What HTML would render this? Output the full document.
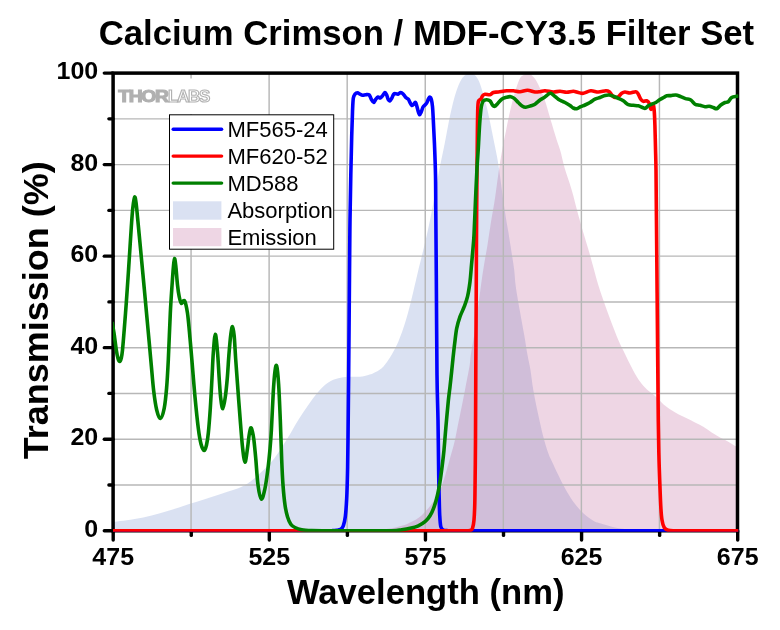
<!DOCTYPE html>
<html lang="en"><head><meta charset="utf-8"><title>Calcium Crimson / MDF-CY3.5 Filter Set</title>
<style>html,body{margin:0;padding:0;background:#fff;}body{width:780px;height:630px;overflow:hidden;}svg{display:block;will-change:transform;}</style>
</head><body>
<svg width="780" height="630" viewBox="0 0 780 630">
<rect width="780" height="630" fill="#fff"/>
<clipPath id="pc"><rect x="113.00" y="72.10" width="625.30" height="459.60"/></clipPath>
<clipPath id="fc"><rect x="113.00" y="73.10" width="624.50" height="457.60"/></clipPath>
<g clip-path="url(#fc)">
<path d="M112.00 521.90 C112.50 521.87 112.55 521.97 115.00 521.70 C117.45 521.43 121.98 521.00 126.70 520.30 C131.42 519.60 137.75 518.67 143.30 517.50 C148.85 516.33 154.43 514.83 160.00 513.30 C165.57 511.77 171.42 509.97 176.70 508.30 C181.98 506.63 186.15 505.10 191.70 503.30 C197.25 501.50 204.17 499.38 210.00 497.50 C215.83 495.62 221.42 493.80 226.70 492.00 C231.98 490.20 237.53 488.62 241.70 486.70 C245.87 484.78 247.53 483.78 251.70 480.50 C255.87 477.22 262.53 471.25 266.70 467.00 C270.87 462.75 273.10 460.00 276.70 455.00 C280.30 450.00 284.70 442.83 288.30 437.00 C291.90 431.17 294.97 425.33 298.30 420.00 C301.63 414.67 304.97 409.72 308.30 405.00 C311.63 400.28 314.97 395.45 318.30 391.70 C321.63 387.95 324.97 384.73 328.30 382.50 C331.63 380.27 334.97 379.25 338.30 378.30 C341.63 377.35 344.68 377.07 348.30 376.80 C351.92 376.53 356.67 377.00 360.00 376.70 C363.33 376.40 366.08 375.57 368.30 375.00 C370.52 374.43 371.07 374.42 373.30 373.30 C375.53 372.18 379.20 370.52 381.70 368.30 C384.20 366.08 386.37 362.77 388.30 360.00 C390.23 357.23 391.63 354.75 393.30 351.70 C394.97 348.65 396.63 345.60 398.30 341.70 C399.97 337.80 401.63 333.30 403.30 328.30 C404.97 323.30 406.63 317.80 408.30 311.70 C409.97 305.60 411.68 298.40 413.30 291.70 C414.92 285.00 416.47 277.90 418.00 271.50 C419.53 265.10 420.78 260.50 422.50 253.30 C424.22 246.10 426.50 236.63 428.30 228.30 C430.10 219.97 431.57 212.52 433.30 203.30 C435.03 194.08 436.75 183.22 438.70 173.00 C440.65 162.78 443.12 151.50 445.00 142.00 C446.88 132.50 448.33 123.75 450.00 116.00 C451.67 108.25 453.33 101.17 455.00 95.50 C456.67 89.83 458.33 85.37 460.00 82.00 C461.67 78.63 463.33 76.72 465.00 75.30 C466.67 73.88 468.33 73.50 470.00 73.50 C471.67 73.50 473.47 73.93 475.00 75.30 C476.53 76.67 477.95 78.97 479.20 81.70 C480.45 84.43 481.25 87.53 482.50 91.70 C483.75 95.87 485.45 101.70 486.70 106.70 C487.95 111.70 488.90 116.43 490.00 121.70 C491.10 126.97 492.18 132.75 493.30 138.30 C494.42 143.85 495.72 149.72 496.70 155.00 C497.68 160.28 497.95 161.38 499.20 170.00 C500.45 178.62 502.68 196.42 504.20 206.70 C505.72 216.98 507.05 223.93 508.30 231.70 C509.55 239.47 510.72 246.92 511.70 253.30 C512.68 259.68 513.52 264.43 514.20 270.00 C514.88 275.57 514.83 279.75 515.80 286.70 C516.77 293.65 518.60 303.65 520.00 311.70 C521.40 319.75 522.95 327.78 524.20 335.00 C525.45 342.22 526.48 349.33 527.50 355.00 C528.52 360.67 529.33 363.17 530.30 369.00 C531.27 374.83 531.97 382.33 533.30 390.00 C534.63 397.67 536.63 407.22 538.30 415.00 C539.97 422.78 541.63 430.32 543.30 436.70 C544.97 443.08 546.90 449.25 548.30 453.30 C549.70 457.35 550.03 457.38 551.70 461.00 C553.37 464.62 556.08 470.45 558.30 475.00 C560.52 479.55 562.50 483.85 565.00 488.30 C567.50 492.75 570.25 497.53 573.30 501.70 C576.35 505.87 579.97 510.12 583.30 513.30 C586.63 516.48 590.52 519.13 593.30 520.80 C596.08 522.47 596.38 522.18 600.00 523.30 C603.62 524.42 609.72 526.43 615.00 527.50 C620.28 528.57 624.75 529.22 631.70 529.70 C638.65 530.18 645.32 530.23 656.70 530.40 C668.08 530.57 692.78 530.65 700.00 530.70 L700.00 530.70 L112.00 530.70 Z" fill="rgba(68,104,190,0.20)"/>
<path d="M330.00 530.70 C335.00 530.65 350.83 530.65 360.00 530.40 C369.17 530.15 378.05 529.97 385.00 529.20 C391.95 528.43 397.25 527.05 401.70 525.80 C406.15 524.55 408.65 523.22 411.70 521.70 C414.75 520.18 417.50 518.65 420.00 516.70 C422.50 514.75 424.48 512.50 426.70 510.00 C428.92 507.50 431.08 505.03 433.30 501.70 C435.52 498.37 438.05 494.28 440.00 490.00 C441.95 485.72 443.33 481.28 445.00 476.00 C446.67 470.72 448.42 463.97 450.00 458.30 C451.58 452.63 453.12 447.83 454.50 442.00 C455.88 436.17 457.10 429.18 458.30 423.30 C459.50 417.42 460.58 412.25 461.70 406.70 C462.82 401.15 463.67 396.95 465.00 390.00 C466.33 383.05 468.73 370.83 469.70 365.00 C470.67 359.17 470.05 360.00 470.80 355.00 C471.55 350.00 473.08 342.22 474.20 335.00 C475.32 327.78 476.40 319.75 477.50 311.70 C478.60 303.65 479.77 294.15 480.80 286.70 C481.83 279.25 482.58 273.95 483.70 267.00 C484.82 260.05 486.32 252.28 487.50 245.00 C488.68 237.72 489.55 231.08 490.80 223.30 C492.05 215.52 493.60 207.52 495.00 198.30 C496.40 189.08 497.95 176.33 499.20 168.00 C500.45 159.67 501.40 154.35 502.50 148.30 C503.60 142.25 504.68 137.25 505.80 131.70 C506.92 126.15 507.95 120.57 509.20 115.00 C510.45 109.43 512.05 103.02 513.30 98.30 C514.55 93.58 515.58 90.03 516.70 86.70 C517.82 83.37 518.90 80.20 520.00 78.30 C521.10 76.40 522.05 76.08 523.30 75.30 C524.55 74.52 526.10 73.60 527.50 73.60 C528.90 73.60 530.32 74.23 531.70 75.30 C533.08 76.37 534.42 77.83 535.80 80.00 C537.18 82.17 538.60 85.25 540.00 88.30 C541.40 91.35 542.82 94.40 544.20 98.30 C545.58 102.20 547.05 107.53 548.30 111.70 C549.55 115.87 550.30 118.58 551.70 123.30 C553.10 128.02 555.25 135.38 556.70 140.00 C558.15 144.62 559.10 146.42 560.40 151.00 C561.70 155.58 562.62 161.00 564.50 167.50 C566.38 174.00 569.40 182.08 571.70 190.00 C574.00 197.92 576.08 206.95 578.30 215.00 C580.52 223.05 583.05 231.63 585.00 238.30 C586.95 244.97 588.62 250.22 590.00 255.00 C591.38 259.78 591.92 262.00 593.30 267.00 C594.68 272.00 596.35 278.67 598.30 285.00 C600.25 291.33 602.77 298.62 605.00 305.00 C607.23 311.38 609.48 317.47 611.70 323.30 C613.92 329.13 616.08 334.88 618.30 340.00 C620.52 345.12 622.77 349.42 625.00 354.00 C627.23 358.58 629.48 363.30 631.70 367.50 C633.92 371.70 636.08 375.87 638.30 379.20 C640.52 382.53 642.77 385.15 645.00 387.50 C647.23 389.85 649.75 391.63 651.70 393.30 C653.65 394.97 654.77 395.68 656.70 397.50 C658.63 399.32 661.08 402.25 663.30 404.20 C665.52 406.15 667.50 407.53 670.00 409.20 C672.50 410.87 675.52 412.68 678.30 414.20 C681.08 415.72 683.92 416.92 686.70 418.30 C689.48 419.68 692.23 421.10 695.00 422.50 C697.77 423.90 700.52 425.03 703.30 426.70 C706.08 428.37 708.92 430.70 711.70 432.50 C714.48 434.30 717.23 435.97 720.00 437.50 C722.77 439.03 725.67 440.23 728.30 441.70 C730.93 443.17 734.02 445.25 735.80 446.30 C737.58 447.35 738.47 447.72 739.00 448.00 L739.00 530.70 L330.00 530.70 Z" fill="rgba(170,50,120,0.20)"/>
</g>
<g stroke="#b7b7b7" stroke-width="1.45" fill="none"><line x1="191.06" y1="73.10" x2="191.06" y2="530.70"/><line x1="269.12" y1="73.10" x2="269.12" y2="530.70"/><line x1="347.19" y1="73.10" x2="347.19" y2="530.70"/><line x1="425.25" y1="73.10" x2="425.25" y2="530.70"/><line x1="503.31" y1="73.10" x2="503.31" y2="530.70"/><line x1="581.38" y1="73.10" x2="581.38" y2="530.70"/><line x1="659.44" y1="73.10" x2="659.44" y2="530.70"/><line x1="113.00" y1="484.94" x2="737.50" y2="484.94"/><line x1="113.00" y1="439.18" x2="737.50" y2="439.18"/><line x1="113.00" y1="393.42" x2="737.50" y2="393.42"/><line x1="113.00" y1="347.66" x2="737.50" y2="347.66"/><line x1="113.00" y1="301.90" x2="737.50" y2="301.90"/><line x1="113.00" y1="256.14" x2="737.50" y2="256.14"/><line x1="113.00" y1="210.38" x2="737.50" y2="210.38"/><line x1="113.00" y1="164.62" x2="737.50" y2="164.62"/><line x1="113.00" y1="118.86" x2="737.50" y2="118.86"/></g>
<rect x="113.10" y="73.10" width="624.40" height="457.65" fill="none" stroke="#000" stroke-width="3.5"/>
<g stroke="#000" stroke-width="3.4" stroke-linecap="round"><line x1="113.20" y1="530.70" x2="113.20" y2="540.00"/><line x1="191.26" y1="530.70" x2="191.26" y2="535.40"/><line x1="269.32" y1="530.70" x2="269.32" y2="540.00"/><line x1="347.39" y1="530.70" x2="347.39" y2="535.40"/><line x1="425.45" y1="530.70" x2="425.45" y2="540.00"/><line x1="503.51" y1="530.70" x2="503.51" y2="535.40"/><line x1="581.58" y1="530.70" x2="581.58" y2="540.00"/><line x1="659.64" y1="530.70" x2="659.64" y2="535.40"/><line x1="737.70" y1="530.70" x2="737.70" y2="540.00"/><line x1="104.30" y1="530.70" x2="113.00" y2="530.70"/><line x1="108.90" y1="484.94" x2="113.00" y2="484.94"/><line x1="104.30" y1="439.18" x2="113.00" y2="439.18"/><line x1="108.90" y1="393.42" x2="113.00" y2="393.42"/><line x1="104.30" y1="347.66" x2="113.00" y2="347.66"/><line x1="108.90" y1="301.90" x2="113.00" y2="301.90"/><line x1="104.30" y1="256.14" x2="113.00" y2="256.14"/><line x1="108.90" y1="210.38" x2="113.00" y2="210.38"/><line x1="104.30" y1="164.62" x2="113.00" y2="164.62"/><line x1="108.90" y1="118.86" x2="113.00" y2="118.86"/><line x1="104.30" y1="73.10" x2="113.00" y2="73.10"/></g>
<g clip-path="url(#pc)" fill="none" stroke-width="3.6" stroke-linejoin="round" stroke-linecap="butt">
<path d="M112.00 530.70 C135.00 530.70 214.50 530.70 250.00 530.70 C285.50 530.70 311.17 530.73 325.00 530.70 C338.83 530.67 331.05 530.57 333.00 530.50 C334.95 530.43 335.40 530.52 336.70 530.30 C338.00 530.08 339.70 529.95 340.80 529.20 C341.90 528.45 342.55 527.88 343.30 525.80 C344.05 523.72 344.73 521.28 345.30 516.70 C345.87 512.12 346.33 505.53 346.70 498.30 C347.07 491.07 347.28 483.02 347.50 473.30 C347.72 463.58 347.80 457.22 348.00 440.00 C348.20 422.78 348.45 397.50 348.70 370.00 C348.95 342.50 349.28 300.00 349.50 275.00 C349.72 250.00 349.78 236.67 350.00 220.00 C350.22 203.33 350.52 188.88 350.80 175.00 C351.08 161.12 351.42 147.25 351.70 136.70 C351.98 126.15 352.23 118.10 352.50 111.70 C352.77 105.30 352.88 101.22 353.30 98.30 C353.72 95.38 354.30 95.12 355.00 94.20 C355.70 93.28 356.67 92.80 357.50 92.80 C358.33 92.80 359.17 93.78 360.00 94.20 C360.83 94.62 361.53 95.22 362.50 95.30 C363.47 95.38 364.68 94.75 365.80 94.70 C366.92 94.65 368.28 94.25 369.20 95.00 C370.12 95.75 370.55 97.95 371.30 99.20 C372.05 100.45 372.95 102.50 373.70 102.50 C374.45 102.50 375.08 100.12 375.80 99.20 C376.52 98.28 377.25 97.20 378.00 97.00 C378.75 96.80 379.55 98.20 380.30 98.00 C381.05 97.80 381.72 96.72 382.50 95.80 C383.28 94.88 384.30 92.63 385.00 92.50 C385.70 92.37 386.15 93.80 386.70 95.00 C387.25 96.20 387.75 98.73 388.30 99.70 C388.85 100.67 389.43 101.03 390.00 100.80 C390.57 100.57 391.08 99.40 391.70 98.30 C392.32 97.20 393.02 94.97 393.70 94.20 C394.38 93.43 395.08 93.70 395.80 93.70 C396.52 93.70 397.17 94.40 398.00 94.20 C398.83 94.00 399.92 92.50 400.80 92.50 C401.68 92.50 402.47 93.37 403.30 94.20 C404.13 95.03 404.97 96.67 405.80 97.50 C406.63 98.33 407.60 98.37 408.30 99.20 C409.00 100.03 409.43 101.48 410.00 102.50 C410.57 103.52 411.08 105.02 411.70 105.30 C412.32 105.58 413.07 104.67 413.70 104.20 C414.33 103.73 414.95 102.08 415.50 102.50 C416.05 102.92 416.53 105.17 417.00 106.70 C417.47 108.23 417.85 110.37 418.30 111.70 C418.75 113.03 419.20 114.70 419.70 114.70 C420.20 114.70 420.75 112.98 421.30 111.70 C421.85 110.42 422.38 108.12 423.00 107.00 C423.62 105.88 424.33 105.75 425.00 105.00 C425.67 104.25 426.38 103.62 427.00 102.50 C427.62 101.38 428.20 99.18 428.70 98.30 C429.20 97.42 429.57 97.05 430.00 97.20 C430.43 97.35 430.88 97.62 431.30 99.20 C431.72 100.78 432.17 103.23 432.50 106.70 C432.83 110.17 432.97 113.62 433.30 120.00 C433.63 126.38 434.13 135.83 434.50 145.00 C434.87 154.17 435.28 163.88 435.50 175.00 C435.72 186.12 435.67 195.03 435.80 211.70 C435.93 228.37 436.10 247.78 436.30 275.00 C436.50 302.22 436.72 350.83 437.00 375.00 C437.28 399.17 437.72 403.33 438.00 420.00 C438.28 436.67 438.50 461.95 438.70 475.00 C438.90 488.05 439.03 491.63 439.20 498.30 C439.37 504.97 439.43 510.27 439.70 515.00 C439.97 519.73 440.20 524.20 440.80 526.70 C441.40 529.20 442.27 529.35 443.30 530.00 C444.33 530.65 445.05 530.48 447.00 530.60 C448.95 530.72 429.50 530.68 455.00 530.70 C480.50 530.72 552.67 530.70 600.00 530.70 C647.33 530.70 715.83 530.70 739.00 530.70" stroke="#0000ff"/>
<path d="M112.00 530.70 C143.33 530.70 242.83 530.70 300.00 530.70 C357.17 530.70 427.33 530.70 455.00 530.70 C482.67 530.70 463.50 530.73 466.00 530.70 C468.50 530.67 468.92 530.90 470.00 530.50 C471.08 530.10 471.83 530.05 472.50 528.30 C473.17 526.55 473.62 524.22 474.00 520.00 C474.38 515.78 474.60 510.83 474.80 503.00 C475.00 495.17 475.08 483.50 475.20 473.00 C475.32 462.50 475.40 457.17 475.50 440.00 C475.60 422.83 475.68 393.33 475.80 370.00 C475.92 346.67 476.08 322.50 476.20 300.00 C476.32 277.50 476.37 256.67 476.50 235.00 C476.63 213.33 476.85 187.50 477.00 170.00 C477.15 152.50 477.27 140.33 477.40 130.00 C477.53 119.67 477.62 112.83 477.80 108.00 C477.98 103.17 478.00 102.47 478.50 101.00 C479.00 99.53 480.13 100.07 480.80 99.20 C481.47 98.33 481.80 96.63 482.50 95.80 C483.20 94.97 483.75 94.38 485.00 94.20 C486.25 94.02 488.62 94.98 490.00 94.70 C491.38 94.42 491.92 92.95 493.30 92.50 C494.68 92.05 496.07 92.28 498.30 92.00 C500.53 91.72 504.20 91.00 506.70 90.80 C509.20 90.60 511.08 90.65 513.30 90.80 C515.52 90.95 517.63 91.78 520.00 91.70 C522.37 91.62 525.00 90.25 527.50 90.30 C530.00 90.35 532.92 91.77 535.00 92.00 C537.08 92.23 538.33 91.90 540.00 91.70 C541.67 91.50 542.78 90.75 545.00 90.80 C547.22 90.85 550.80 91.92 553.30 92.00 C555.80 92.08 557.77 91.25 560.00 91.30 C562.23 91.35 564.48 92.30 566.70 92.30 C568.92 92.30 571.37 91.27 573.30 91.30 C575.23 91.33 576.63 92.17 578.30 92.50 C579.97 92.83 581.22 93.58 583.30 93.30 C585.38 93.02 588.30 91.02 590.80 90.80 C593.30 90.58 595.80 92.00 598.30 92.00 C600.80 92.00 603.98 90.85 605.80 90.80 C607.62 90.75 608.08 90.87 609.20 91.70 C610.32 92.53 611.53 94.83 612.50 95.80 C613.47 96.77 614.03 97.35 615.00 97.50 C615.97 97.65 617.18 97.40 618.30 96.70 C619.42 96.00 620.58 94.08 621.70 93.30 C622.82 92.52 623.62 92.05 625.00 92.00 C626.38 91.95 628.20 93.05 630.00 93.00 C631.80 92.95 634.42 91.50 635.80 91.70 C637.18 91.90 637.47 92.95 638.30 94.20 C639.13 95.45 639.97 98.02 640.80 99.20 C641.63 100.38 642.32 101.03 643.30 101.30 C644.28 101.57 645.72 100.47 646.70 100.80 C647.68 101.13 648.52 101.90 649.20 103.30 C649.88 104.70 650.28 108.58 650.80 109.20 C651.32 109.82 651.85 107.62 652.30 107.00 C652.75 106.38 653.17 104.67 653.50 105.50 C653.83 106.33 654.07 108.75 654.30 112.00 C654.53 115.25 654.70 118.95 654.90 125.00 C655.10 131.05 655.32 140.80 655.50 148.30 C655.68 155.80 655.85 158.88 656.00 170.00 C656.15 181.12 656.25 198.33 656.40 215.00 C656.55 231.67 656.75 253.33 656.90 270.00 C657.05 286.67 657.15 298.33 657.30 315.00 C657.45 331.67 657.63 352.22 657.80 370.00 C657.97 387.78 658.12 407.53 658.30 421.70 C658.48 435.87 658.67 445.28 658.90 455.00 C659.13 464.72 659.38 471.38 659.70 480.00 C660.02 488.62 660.42 500.03 660.80 506.70 C661.18 513.37 661.43 516.53 662.00 520.00 C662.57 523.47 663.15 525.78 664.20 527.50 C665.25 529.22 666.22 529.77 668.30 530.30 C670.38 530.83 671.42 530.63 676.70 530.70 C681.98 530.77 689.62 530.70 700.00 530.70 C710.38 530.70 732.50 530.70 739.00 530.70" stroke="#ff0000"/>
<path d="M112.00 322.00 C112.33 323.83 113.28 328.33 114.00 333.00 C114.72 337.67 115.63 345.75 116.30 350.00 C116.97 354.25 117.43 356.58 118.00 358.50 C118.57 360.42 119.15 361.58 119.70 361.50 C120.25 361.42 120.83 359.92 121.30 358.00 C121.77 356.08 122.02 354.67 122.50 350.00 C122.98 345.33 123.58 337.67 124.20 330.00 C124.82 322.33 125.57 312.67 126.20 304.00 C126.83 295.33 127.42 286.67 128.00 278.00 C128.58 269.33 129.15 260.50 129.70 252.00 C130.25 243.50 130.78 234.33 131.30 227.00 C131.82 219.67 132.23 213.00 132.80 208.00 C133.37 203.00 134.13 197.67 134.70 197.00 C135.27 196.33 135.72 200.50 136.20 204.00 C136.68 207.50 137.02 212.00 137.60 218.00 C138.18 224.00 138.97 232.25 139.70 240.00 C140.43 247.75 141.23 256.33 142.00 264.50 C142.77 272.67 143.53 280.75 144.30 289.00 C145.07 297.25 145.82 305.50 146.60 314.00 C147.38 322.50 148.22 331.42 149.00 340.00 C149.78 348.58 150.52 357.00 151.30 365.50 C152.08 374.00 152.80 383.58 153.70 391.00 C154.60 398.42 155.60 405.42 156.70 410.00 C157.80 414.58 159.05 418.78 160.30 418.50 C161.55 418.22 163.15 413.38 164.20 408.30 C165.25 403.22 165.92 396.05 166.60 388.00 C167.28 379.95 167.68 372.45 168.30 360.00 C168.92 347.55 169.65 326.13 170.30 313.30 C170.95 300.47 171.68 290.72 172.20 283.00 C172.72 275.28 173.02 271.08 173.40 267.00 C173.78 262.92 174.10 258.67 174.50 258.50 C174.90 258.33 175.30 261.58 175.80 266.00 C176.30 270.42 176.93 279.88 177.50 285.00 C178.07 290.12 178.57 293.65 179.20 296.70 C179.83 299.75 180.42 302.62 181.30 303.30 C182.18 303.98 183.47 299.13 184.50 300.80 C185.53 302.47 186.58 307.05 187.50 313.30 C188.42 319.55 189.20 329.68 190.00 338.30 C190.80 346.92 191.47 355.22 192.30 365.00 C193.13 374.78 194.00 386.45 195.00 397.00 C196.00 407.55 197.30 420.47 198.30 428.30 C199.30 436.13 200.02 440.30 201.00 444.00 C201.98 447.70 203.28 450.33 204.20 450.50 C205.12 450.67 205.82 447.87 206.50 445.00 C207.18 442.13 207.67 439.42 208.30 433.30 C208.93 427.18 209.68 417.52 210.30 408.30 C210.92 399.08 211.50 387.22 212.00 378.00 C212.50 368.78 212.75 360.30 213.30 353.00 C213.85 345.70 214.60 334.37 215.30 334.20 C216.00 334.03 216.83 344.37 217.50 352.00 C218.17 359.63 218.77 372.33 219.30 380.00 C219.83 387.67 220.12 393.20 220.70 398.00 C221.28 402.80 222.03 408.97 222.80 408.80 C223.57 408.63 224.55 402.13 225.30 397.00 C226.05 391.87 226.70 385.00 227.30 378.00 C227.90 371.00 228.32 362.25 228.90 355.00 C229.48 347.75 230.20 339.22 230.80 334.50 C231.40 329.78 231.93 326.45 232.50 326.70 C233.07 326.95 233.68 330.78 234.20 336.00 C234.72 341.22 235.05 350.00 235.60 358.00 C236.15 366.00 236.77 374.17 237.50 384.00 C238.23 393.83 239.17 406.50 240.00 417.00 C240.83 427.50 241.67 439.47 242.50 447.00 C243.33 454.53 244.17 461.98 245.00 462.20 C245.83 462.42 246.83 452.67 247.50 448.30 C248.17 443.93 248.45 439.42 249.00 436.00 C249.55 432.58 250.22 428.47 250.80 427.80 C251.38 427.13 251.98 429.97 252.50 432.00 C253.02 434.03 253.35 435.50 253.90 440.00 C254.45 444.50 255.12 451.50 255.80 459.00 C256.48 466.50 257.08 478.30 258.00 485.00 C258.92 491.70 260.13 498.65 261.30 499.20 C262.47 499.75 263.88 493.45 265.00 488.30 C266.12 483.15 267.17 474.85 268.00 468.30 C268.83 461.75 269.43 455.38 270.00 449.00 C270.57 442.62 270.85 439.55 271.40 430.00 C271.95 420.45 272.70 401.53 273.30 391.70 C273.90 381.87 274.43 375.28 275.00 371.00 C275.57 366.72 276.10 363.83 276.70 366.00 C277.30 368.17 278.00 375.00 278.60 384.00 C279.20 393.00 279.78 407.33 280.30 420.00 C280.82 432.67 281.25 449.17 281.70 460.00 C282.15 470.83 282.45 477.50 283.00 485.00 C283.55 492.50 284.25 499.72 285.00 505.00 C285.75 510.28 286.53 513.50 287.50 516.70 C288.47 519.90 289.55 522.40 290.80 524.20 C292.05 526.00 293.18 526.58 295.00 527.50 C296.82 528.42 298.92 529.20 301.70 529.70 C304.48 530.20 306.98 530.33 311.70 530.50 C316.42 530.67 321.95 530.67 330.00 530.70 C338.05 530.73 349.67 530.70 360.00 530.70 C370.33 530.70 385.05 530.87 392.00 530.70 C398.95 530.53 398.70 530.10 401.70 529.70 C404.70 529.30 407.23 528.95 410.00 528.30 C412.77 527.65 415.80 526.90 418.30 525.80 C420.80 524.70 423.05 523.37 425.00 521.70 C426.95 520.03 428.47 518.30 430.00 515.80 C431.53 513.30 432.95 510.17 434.20 506.70 C435.45 503.23 436.53 499.17 437.50 495.00 C438.47 490.83 439.20 486.70 440.00 481.70 C440.80 476.70 441.63 470.28 442.30 465.00 C442.97 459.72 443.42 456.12 444.00 450.00 C444.58 443.88 445.08 436.47 445.80 428.30 C446.52 420.13 447.60 407.93 448.30 401.00 C449.00 394.07 449.43 391.70 450.00 386.70 C450.57 381.70 451.20 375.73 451.70 371.00 C452.20 366.27 452.50 362.92 453.00 358.30 C453.50 353.68 454.08 348.30 454.70 343.30 C455.32 338.30 455.82 332.73 456.70 328.30 C457.58 323.87 458.75 320.30 460.00 316.70 C461.25 313.10 462.95 310.03 464.20 306.70 C465.45 303.37 466.53 300.87 467.50 296.70 C468.47 292.53 469.33 286.98 470.00 281.70 C470.67 276.42 471.05 270.00 471.50 265.00 C471.95 260.00 472.28 256.70 472.70 251.70 C473.12 246.70 473.53 243.62 474.00 235.00 C474.47 226.38 475.00 211.17 475.50 200.00 C476.00 188.83 476.53 176.62 477.00 168.00 C477.47 159.38 477.85 155.75 478.30 148.30 C478.75 140.85 479.20 130.23 479.70 123.30 C480.20 116.37 480.70 110.45 481.30 106.70 C481.90 102.95 482.40 101.97 483.30 100.80 C484.20 99.63 485.58 99.70 486.70 99.70 C487.82 99.70 489.03 99.92 490.00 100.80 C490.97 101.68 491.72 104.08 492.50 105.00 C493.28 105.92 493.87 106.52 494.70 106.30 C495.53 106.08 496.33 104.88 497.50 103.70 C498.67 102.52 500.17 100.28 501.70 99.20 C503.23 98.12 505.18 97.62 506.70 97.20 C508.22 96.78 509.55 96.52 510.80 96.70 C512.05 96.88 512.95 97.33 514.20 98.30 C515.45 99.27 516.92 101.17 518.30 102.50 C519.68 103.83 521.25 105.52 522.50 106.30 C523.75 107.08 524.42 107.28 525.80 107.20 C527.18 107.12 529.27 106.30 530.80 105.80 C532.33 105.30 533.47 105.17 535.00 104.20 C536.53 103.23 538.47 101.12 540.00 100.00 C541.53 98.88 542.82 98.47 544.20 97.50 C545.58 96.53 547.20 94.90 548.30 94.20 C549.40 93.50 549.82 93.03 550.80 93.30 C551.78 93.57 552.95 94.82 554.20 95.80 C555.45 96.78 557.00 98.30 558.30 99.20 C559.60 100.10 560.88 100.65 562.00 101.20 C563.12 101.75 563.67 101.78 565.00 102.50 C566.33 103.22 568.62 104.58 570.00 105.50 C571.38 106.42 572.18 107.47 573.30 108.00 C574.42 108.53 575.45 108.92 576.70 108.70 C577.95 108.48 579.42 107.32 580.80 106.70 C582.18 106.08 583.47 105.70 585.00 105.00 C586.53 104.30 588.33 103.47 590.00 102.50 C591.67 101.53 593.33 100.03 595.00 99.20 C596.67 98.37 598.33 98.12 600.00 97.50 C601.67 96.88 603.47 95.92 605.00 95.50 C606.53 95.08 607.82 94.87 609.20 95.00 C610.58 95.13 611.78 95.75 613.30 96.30 C614.82 96.85 616.63 97.55 618.30 98.30 C619.97 99.05 621.63 99.73 623.30 100.80 C624.97 101.87 626.63 103.95 628.30 104.70 C629.97 105.45 631.63 105.12 633.30 105.30 C634.97 105.48 636.77 105.43 638.30 105.80 C639.83 106.17 641.33 107.08 642.50 107.50 C643.67 107.92 644.33 108.58 645.30 108.30 C646.27 108.02 647.23 106.48 648.30 105.80 C649.37 105.12 650.45 104.75 651.70 104.20 C652.95 103.65 654.42 103.28 655.80 102.50 C657.18 101.72 658.60 100.38 660.00 99.50 C661.40 98.62 663.08 97.82 664.20 97.20 C665.32 96.58 665.60 96.07 666.70 95.80 C667.80 95.53 669.28 95.73 670.80 95.60 C672.32 95.47 674.20 94.85 675.80 95.00 C677.40 95.15 678.78 95.90 680.40 96.50 C682.02 97.10 683.77 98.02 685.50 98.60 C687.23 99.18 689.22 99.07 690.80 100.00 C692.38 100.93 693.47 103.32 695.00 104.20 C696.53 105.08 698.33 104.88 700.00 105.30 C701.67 105.72 703.47 106.55 705.00 106.70 C706.53 106.85 707.82 106.07 709.20 106.20 C710.58 106.33 712.05 107.08 713.30 107.50 C714.55 107.92 715.45 109.12 716.70 108.70 C717.95 108.28 719.42 106.03 720.80 105.00 C722.18 103.97 723.75 103.05 725.00 102.50 C726.25 101.95 727.18 102.53 728.30 101.70 C729.42 100.87 730.30 98.40 731.70 97.50 C733.10 96.60 735.48 96.55 736.70 96.30 C737.92 96.05 738.62 96.05 739.00 96.00" stroke="#008000"/>
</g>
<g font-family="'Liberation Sans', Arial, sans-serif" font-weight="bold" fill="#000">
<text x="426.4" y="45.4" font-size="34.6" text-anchor="middle" textLength="655.5" lengthAdjust="spacingAndGlyphs">Calcium Crimson / MDF-CY3.5 Filter Set</text>
<text x="425.7" y="604.2" font-size="34.6" text-anchor="middle" textLength="277.5" lengthAdjust="spacingAndGlyphs">Wavelength (nm)</text>
<text transform="translate(48.2 310.2) rotate(-90)" font-size="34.6" text-anchor="middle" textLength="298" lengthAdjust="spacingAndGlyphs">Transmission (%)</text>
<text x="113.20" y="565.1" font-size="23.6" text-anchor="middle" textLength="41.7" lengthAdjust="spacingAndGlyphs">475</text>
<text x="269.32" y="565.1" font-size="23.6" text-anchor="middle" textLength="41.7" lengthAdjust="spacingAndGlyphs">525</text>
<text x="425.45" y="565.1" font-size="23.6" text-anchor="middle" textLength="41.7" lengthAdjust="spacingAndGlyphs">575</text>
<text x="581.58" y="565.1" font-size="23.6" text-anchor="middle" textLength="41.7" lengthAdjust="spacingAndGlyphs">625</text>
<text x="737.70" y="565.1" font-size="23.6" text-anchor="middle" textLength="41.7" lengthAdjust="spacingAndGlyphs">675</text>
<text x="98.2" y="536.95" font-size="23.6" text-anchor="end" textLength="13.9" lengthAdjust="spacingAndGlyphs">0</text>
<text x="98.2" y="445.43" font-size="23.6" text-anchor="end" textLength="27.8" lengthAdjust="spacingAndGlyphs">20</text>
<text x="98.2" y="353.91" font-size="23.6" text-anchor="end" textLength="27.8" lengthAdjust="spacingAndGlyphs">40</text>
<text x="98.2" y="262.39" font-size="23.6" text-anchor="end" textLength="27.8" lengthAdjust="spacingAndGlyphs">60</text>
<text x="98.2" y="170.87" font-size="23.6" text-anchor="end" textLength="27.8" lengthAdjust="spacingAndGlyphs">80</text>
<text x="98.2" y="79.35" font-size="23.6" text-anchor="end" textLength="41.7" lengthAdjust="spacingAndGlyphs">100</text>
</g>
<rect x="115.5" y="78.5" width="100" height="35.5" fill="#fff"/>
<g font-family="'Liberation Sans', Arial, sans-serif" font-weight="bold" font-size="16.2" stroke-linejoin="miter">
<text transform="translate(118.3 102.1) scale(1.19 1)" letter-spacing="-1.1" fill="#b0b0b0" stroke="#b0b0b0" stroke-width="1.1">THOR</text>
<text transform="translate(167.9 102.0) scale(1.045 1)" letter-spacing="-1.2" fill="#fff" stroke="#b2b2b2" stroke-width="1.1">LABS</text>
</g>
<rect x="169.5" y="114.8" width="164.2" height="134.4" fill="#fff" stroke="#000" stroke-width="1"/>
<g stroke-width="3.4" fill="none" stroke-linecap="round">
<line x1="173.2" x2="221.6" y1="129.3" y2="129.3" stroke="#0000ff"/>
<line x1="173.2" x2="221.6" y1="156.1" y2="156.1" stroke="#ff0000"/>
<line x1="173.2" x2="221.6" y1="183.1" y2="183.1" stroke="#008000"/>
</g>
<rect x="173" y="201.3" width="48.4" height="18.4" fill="rgba(68,104,190,0.20)"/>
<rect x="173" y="228" width="48.4" height="18.2" fill="rgba(170,50,120,0.20)"/>
<g font-family="'Liberation Sans', Arial, sans-serif" font-size="21.4" fill="#000">
<text x="227.4" y="137.0" transform="translate(227.4 0) scale(1.03 1) translate(-227.4 0)">MF565-24</text>
<text x="227.4" y="163.9" transform="translate(227.4 0) scale(1.03 1) translate(-227.4 0)">MF620-52</text>
<text x="227.4" y="190.8" transform="translate(227.4 0) scale(1.03 1) translate(-227.4 0)">MD588</text>
<text x="227.4" y="217.8" transform="translate(227.4 0) scale(1.03 1) translate(-227.4 0)">Absorption</text>
<text x="227.4" y="244.7" transform="translate(227.4 0) scale(1.03 1) translate(-227.4 0)">Emission</text>
</g>
</svg>
</body></html>
